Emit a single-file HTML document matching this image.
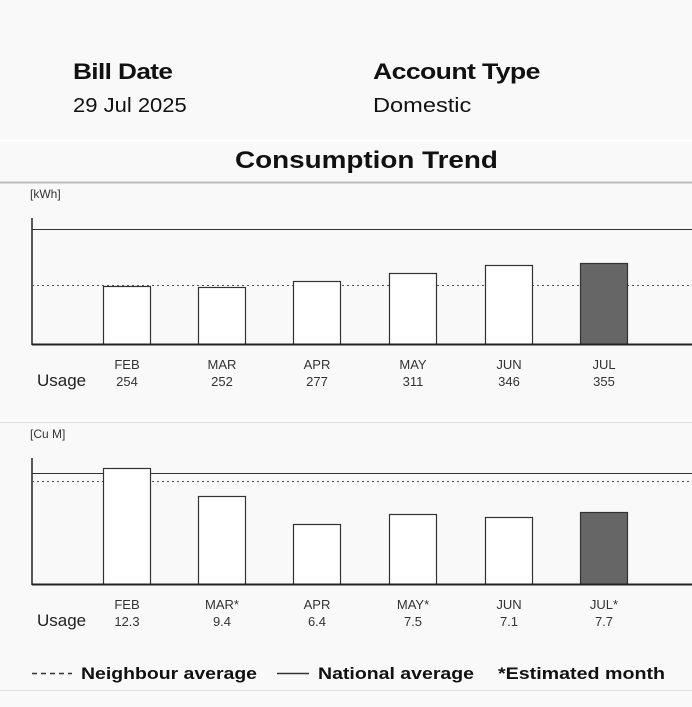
<!DOCTYPE html>
<html><head><meta charset="utf-8"><style>
body{margin:0;width:692px;height:707px;background:#f9f9f9;font-family:"Liberation Sans",sans-serif;overflow:hidden;position:relative}
.t{position:absolute;white-space:nowrap;color:#111;transform-origin:0 0}
</style></head><body>
<div class="t" style="left:73px;top:59px;font-size:22px;font-weight:bold;letter-spacing:-0.5px;transform:scaleX(1.19)">Bill Date</div>
<div class="t" style="left:73px;top:95px;font-size:20px;transform:scaleX(1.1)">29 Jul 2025</div>
<div class="t" style="left:373px;top:59px;font-size:22px;font-weight:bold;letter-spacing:-0.5px;transform:scaleX(1.21)">Account Type</div>
<div class="t" style="left:373px;top:95px;font-size:20px;transform:scaleX(1.18)">Domestic</div>
<div class="t" style="left:235px;top:147px;font-size:24px;font-weight:bold;transform:scaleX(1.16)">Consumption Trend</div>
<svg width="692" height="707" style="position:absolute;left:0;top:0" font-family="Liberation Sans, sans-serif">
<line x1="0" y1="140.5" x2="692" y2="140.5" stroke="#fff" stroke-width="2"/>
<line x1="0" y1="182.5" x2="692" y2="182.5" stroke="#bbb" stroke-width="2"/>
<line x1="0" y1="422.5" x2="692" y2="422.5" stroke="#ddd"/>
<line x1="0" y1="690.5" x2="692" y2="690.5" stroke="#ddd"/>
<text x="30" y="198" font-size="12" fill="#333">[kWh]</text>
<line x1="32" y1="218" x2="32" y2="345" stroke="#222" stroke-width="1.5"/>
<line x1="32" y1="229.5" x2="692" y2="229.5" stroke="#333"/>
<line x1="32" y1="285.5" x2="692" y2="285.5" stroke="#555" stroke-dasharray="2,3"/>
<g stroke="#333" stroke-width="1.2" fill="#fff">
<rect x="103.5" y="286.5" width="47" height="58"/>
<rect x="198.5" y="287.5" width="47" height="57"/>
<rect x="293.5" y="281.5" width="47" height="63"/>
<rect x="389.5" y="273.5" width="47" height="71"/>
<rect x="485.5" y="265.5" width="47" height="79"/>
<rect x="580.5" y="263.5" width="47" height="81" fill="#666"/>
</g>
<line x1="32" y1="344.5" x2="692" y2="344.5" stroke="#222" stroke-width="2"/>
<g font-size="13" fill="#333" text-anchor="middle">
<text x="127" y="369">FEB</text><text x="127" y="386">254</text>
<text x="222" y="369">MAR</text><text x="222" y="386">252</text>
<text x="317" y="369">APR</text><text x="317" y="386">277</text>
<text x="413" y="369">MAY</text><text x="413" y="386">311</text>
<text x="509" y="369">JUN</text><text x="509" y="386">346</text>
<text x="604" y="369">JUL</text><text x="604" y="386">355</text>
</g>
<text x="37" y="386" font-size="17" fill="#222">Usage</text>

<text x="30" y="438" font-size="12" fill="#333">[Cu M]</text>
<line x1="32" y1="458" x2="32" y2="585" stroke="#222" stroke-width="1.5"/>
<line x1="32" y1="473.5" x2="692" y2="473.5" stroke="#333"/>
<line x1="32" y1="481.5" x2="692" y2="481.5" stroke="#555" stroke-dasharray="2,3"/>
<g stroke="#333" stroke-width="1.2" fill="#fff">
<rect x="103.5" y="468.5" width="47" height="116"/>
<rect x="198.5" y="496.5" width="47" height="88"/>
<rect x="293.5" y="524.5" width="47" height="60"/>
<rect x="389.5" y="514.5" width="47" height="70"/>
<rect x="485.5" y="517.5" width="47" height="67"/>
<rect x="580.5" y="512.5" width="47" height="72" fill="#666"/>
</g>
<line x1="32" y1="584.5" x2="692" y2="584.5" stroke="#222" stroke-width="2"/>
<g font-size="13" fill="#333" text-anchor="middle">
<text x="127" y="609">FEB</text><text x="127" y="626">12.3</text>
<text x="222" y="609">MAR*</text><text x="222" y="626">9.4</text>
<text x="317" y="609">APR</text><text x="317" y="626">6.4</text>
<text x="413" y="609">MAY*</text><text x="413" y="626">7.5</text>
<text x="509" y="609">JUN</text><text x="509" y="626">7.1</text>
<text x="604" y="609">JUL*</text><text x="604" y="626">7.7</text>
</g>
<text x="37" y="626" font-size="17" fill="#222">Usage</text>

<g font-size="17" font-weight="bold" fill="#111">
<line x1="32" y1="673.5" x2="72" y2="673.5" stroke="#333" stroke-width="1.5" stroke-dasharray="5,4"/>
<text x="81" y="679" textLength="176" lengthAdjust="spacingAndGlyphs">Neighbour average</text>
<line x1="277" y1="673.5" x2="309" y2="673.5" stroke="#333" stroke-width="1.5"/>
<text x="318" y="679" textLength="156" lengthAdjust="spacingAndGlyphs">National average</text>
<text x="498" y="679" textLength="167" lengthAdjust="spacingAndGlyphs">*Estimated month</text>
</g>
</svg>
</body></html>
